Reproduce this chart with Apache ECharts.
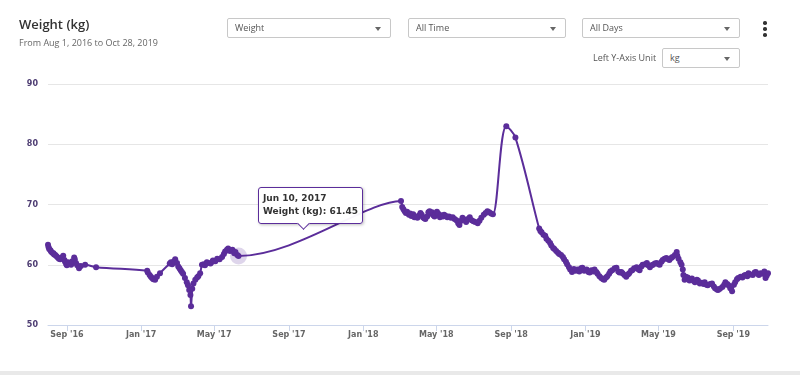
<!DOCTYPE html>
<html>
<head>
<meta charset="utf-8">
<script src="https://cdn.jsdelivr.net/npm/echarts@6/dist/echarts.min.js"></script>
<style>
  body { margin: 0; background: #fff; font-family: 'Open Sans', sans-serif; }
  .wrap { position: relative; width: 800px; height: 375px; overflow: hidden; }
  .chart { position: absolute; left: 0; top: 0; width: 800px; height: 375px; }
  .title { position: absolute; left: 19px; top: 15px; font-size: 13px; font-weight: 600; color: #333; }
  .sub { position: absolute; left: 19px; top: 36px; font-size: 9px; color: #666; }
  .sel { position: absolute; height: 18px; border: 1px solid #c8c8c8; border-radius: 2px; background: #fff;
    font-size: 9px; color: #555; line-height: 18px; padding-left: 7px; box-sizing: content-box; }
  .sel::after { content: ''; position: absolute; right: 9px; top: 8px; border-left: 3px solid transparent;
    border-right: 3px solid transparent; border-top: 4px solid #666; }
  .lbl { position: absolute; left: 593px; top: 51px; font-size: 9px; color: #555; }
  .dots { position: absolute; left: 763px; top: 21px; width: 4px; }
  .dots i { display: block; width: 3.5px; height: 3.5px; border-radius: 50%; background: #333; margin-bottom: 2.5px; }
  .foot { position: absolute; left: 0; top: 371px; width: 800px; height: 4px; background: #e9e9e9; }
</style>
</head>
<body>
<div class="wrap">
  <div class="chart" id="chart"></div>
  <div class="title">Weight (kg)</div>
  <div class="sub">From Aug 1, 2016 to Oct 28, 2019</div>
  <div class="sel" style="left:227px;top:18px;width:155px">Weight</div>
  <div class="sel" style="left:408px;top:18px;width:149px">All Time</div>
  <div class="sel" style="left:582px;top:18px;width:149px">All Days</div>
  <div class="dots"><i></i><i></i><i></i></div>
  <div class="lbl">Left Y-Axis Unit</div>
  <div class="sel" style="left:662px;top:48px;width:69px">kg</div>
  <div class="foot"></div>
</div>
<script>
const weightDates = [
  '2016-08-01', '2016-08-02', '2016-08-03', '2016-08-05', '2016-08-06', '2016-08-08', '2016-08-10', '2016-08-11',
  '2016-08-13', '2016-08-15', '2016-08-17', '2016-08-19', '2016-08-21', '2016-08-24', '2016-08-26', '2016-08-28',
  '2016-08-29', '2016-08-31', '2016-09-01', '2016-09-03', '2016-09-05', '2016-09-08', '2016-09-10', '2016-09-13',
  '2016-09-14', '2016-09-16', '2016-09-18', '2016-09-21', '2016-09-24', '2016-10-01', '2016-10-19',
  '2017-01-11', '2017-01-12', '2017-01-15', '2017-01-17', '2017-01-19', '2017-01-21', '2017-01-24', '2017-01-27',
  '2017-02-01', '2017-02-17', '2017-02-19', '2017-02-21', '2017-02-24', '2017-02-26', '2017-03-01', '2017-03-03',
  '2017-03-05', '2017-03-07', '2017-03-09', '2017-03-11', '2017-03-14', '2017-03-17', '2017-03-19', '2017-03-21',
  '2017-03-23', '2017-03-24', '2017-03-26', '2017-03-28', '2017-03-31', '2017-04-03', '2017-04-05', '2017-04-08',
  '2017-04-11', '2017-04-14', '2017-04-16', '2017-04-19', '2017-04-21', '2017-04-25', '2017-04-28', '2017-04-29',
  '2017-05-03', '2017-05-06', '2017-05-10', '2017-05-14', '2017-05-17', '2017-05-19', '2017-05-22', '2017-05-24',
  '2017-05-27', '2017-05-31', '2017-06-03', '2017-06-05', '2017-06-08', '2017-06-10',
  '2018-03-04', '2018-03-06', '2018-03-08', '2018-03-10', '2018-03-12', '2018-03-14', '2018-03-17', '2018-03-19',
  '2018-03-21', '2018-03-24', '2018-03-26', '2018-03-28', '2018-03-31', '2018-04-03', '2018-04-05', '2018-04-07',
  '2018-04-09', '2018-04-11', '2018-04-13', '2018-04-16', '2018-04-18', '2018-04-20', '2018-04-22', '2018-04-24',
  '2018-04-26', '2018-04-28', '2018-04-30', '2018-05-02', '2018-05-04', '2018-05-07', '2018-05-09', '2018-05-12',
  '2018-05-14', '2018-05-17', '2018-05-19', '2018-05-22', '2018-05-25', '2018-05-28', '2018-05-31', '2018-06-03',
  '2018-06-06', '2018-06-08', '2018-06-11', '2018-06-13', '2018-06-16', '2018-06-19', '2018-06-22', '2018-06-25',
  '2018-06-28', '2018-07-01', '2018-07-04', '2018-07-08', '2018-07-11', '2018-07-14', '2018-07-18', '2018-07-21',
  '2018-07-24', '2018-07-27', '2018-07-30', '2018-08-02', '2018-08-24', '2018-09-08',
  '2018-10-17', '2018-10-19', '2018-10-21', '2018-10-24', '2018-10-27', '2018-10-29', '2018-11-01', '2018-11-04',
  '2018-11-06', '2018-11-09', '2018-11-11', '2018-11-14', '2018-11-17', '2018-11-19', '2018-11-22', '2018-11-25',
  '2018-11-27', '2018-11-30', '2018-12-02', '2018-12-05', '2018-12-07', '2018-12-10', '2018-12-13', '2018-12-16',
  '2018-12-19', '2018-12-22', '2018-12-25', '2018-12-27', '2018-12-30', '2019-01-03', '2019-01-06', '2019-01-08',
  '2019-01-11', '2019-01-14', '2019-01-16', '2019-01-19', '2019-01-21', '2019-01-24', '2019-01-27', '2019-01-30',
  '2019-02-01', '2019-02-04', '2019-02-06', '2019-02-09', '2019-02-11', '2019-02-14', '2019-02-18', '2019-02-21',
  '2019-02-24', '2019-02-26', '2019-03-01', '2019-03-03', '2019-03-06', '2019-03-09', '2019-03-12', '2019-03-14',
  '2019-03-17', '2019-03-19', '2019-03-22', '2019-03-26', '2019-03-28', '2019-03-31', '2019-04-03', '2019-04-05',
  '2019-04-09', '2019-04-12', '2019-04-14', '2019-04-17', '2019-04-20', '2019-04-22', '2019-04-25', '2019-04-28',
  '2019-05-01', '2019-05-03', '2019-05-06', '2019-05-08', '2019-05-11', '2019-05-14', '2019-05-17', '2019-05-19',
  '2019-05-22', '2019-05-24', '2019-05-28', '2019-05-31', '2019-06-01', '2019-06-03', '2019-06-06', '2019-06-08',
  '2019-06-10', '2019-06-11', '2019-06-13', '2019-06-15', '2019-06-18', '2019-06-21', '2019-06-25', '2019-06-28',
  '2019-06-30', '2019-07-03', '2019-07-05', '2019-07-08', '2019-07-11', '2019-07-14', '2019-07-16', '2019-07-19',
  '2019-07-21', '2019-07-25', '2019-07-28', '2019-07-31', '2019-08-02', '2019-08-05', '2019-08-07', '2019-08-10',
  '2019-08-14', '2019-08-17', '2019-08-19', '2019-08-22', '2019-08-24', '2019-08-27', '2019-08-30', '2019-09-02',
  '2019-09-04', '2019-09-07', '2019-09-09', '2019-09-13', '2019-09-16', '2019-09-19', '2019-09-21', '2019-09-24',
  '2019-09-26', '2019-09-29', '2019-10-03', '2019-10-06', '2019-10-08', '2019-10-11', '2019-10-13', '2019-10-16',
  '2019-10-19', '2019-10-22', '2019-10-24', '2019-10-26', '2019-10-28'
]
const weightKg = [
  63.3, 62.9, 62.6, 62.4, 62.2, 62.0, 61.9, 61.7,
  61.6, 61.4, 61.2, 61.0, 60.9, 61.2, 61.5, 60.8,
  60.5, 60.1, 59.9, 60.4, 60.2, 60.0, 60.6, 61.2,
  60.9, 60.3, 59.9, 59.4, 59.8, 60.0, 59.6,
  59.0, 58.7, 58.3, 58.0, 57.8, 57.6, 57.5, 58.0,
  58.6, 60.2, 60.4, 60.1, 60.6, 60.9, 60.3, 59.7,
  59.4, 59.1, 58.8, 58.5, 57.8, 57.1, 56.6, 55.8,
  55.0, 53.1, 56.0, 56.9, 57.5, 57.9, 58.1, 58.6,
  60.0, 60.1, 59.9, 60.4, 60.3, 60.2, 60.5, 60.7,
  60.6, 61.0, 60.9, 61.3, 61.8, 62.2, 62.5, 62.7,
  62.3, 62.5, 61.9, 62.1, 61.6, 61.45,
  70.6, 69.6, 69.2, 68.9, 68.6, 68.8, 68.3, 68.5,
  68.1, 68.4, 67.9, 68.0, 67.8, 68.2, 68.6, 68.3,
  67.9, 67.7, 67.6, 68.0, 68.7, 68.9, 68.5, 68.7,
  68.2, 68.0, 68.4, 68.8, 68.5, 67.9, 68.2, 68.0,
  68.3, 68.1, 67.9, 68.0, 67.8, 67.9, 67.6, 67.4,
  66.9, 66.6, 67.3, 67.8, 67.5, 67.1, 67.6, 67.9,
  67.4, 67.2, 67.1, 66.9, 67.3, 67.8, 68.3, 68.6,
  68.9, 68.7, 68.5, 68.4, 83.0, 81.1,
  66.0, 65.6, 65.4, 65.0, 64.8, 64.3, 64.0, 63.6,
  63.2, 62.8, 62.6, 62.3, 62.0, 61.8, 61.6, 61.3,
  60.9, 60.5, 60.1, 59.6, 59.2, 58.8, 59.3, 59.0,
  59.2, 58.9, 59.4, 59.5, 59.0, 59.2, 58.8, 58.7,
  59.1, 58.9, 59.2, 58.8, 58.5, 58.1, 57.8, 57.6,
  57.5, 57.9, 58.1, 58.5, 58.9, 59.1, 59.4, 59.5,
  58.9, 58.7, 58.8, 58.6, 58.3, 58.0, 58.4, 58.6,
  59.0, 59.1, 59.4, 59.6, 59.3, 59.1, 59.7, 60.0,
  60.1, 60.3, 59.9, 59.6, 59.9, 60.0, 60.2, 60.3,
  60.1, 60.0, 60.5, 60.8, 61.0, 61.1, 60.9, 60.8,
  61.1, 61.3, 61.6, 62.1, 61.5, 61.0, 60.4, 60.0,
  59.2, 58.3, 57.5, 58.0, 57.9, 57.4, 57.7, 57.3,
  57.1, 57.5, 57.4, 56.9, 57.0, 56.8, 57.1, 56.7,
  56.6, 56.8, 56.9, 56.4, 56.1, 55.9, 55.8, 56.0,
  56.3, 56.7, 57.1, 56.8, 56.6, 56.1, 55.6, 56.7,
  57.1, 57.6, 57.8, 58.0, 57.9, 58.2, 58.3, 58.1,
  58.6, 58.4, 58.3, 58.7, 58.8, 58.5, 58.3, 58.6,
  58.5, 58.9, 57.8, 58.2, 58.6
]
const tickDates = ['2016-09-01', '2017-01-01', '2017-05-01', '2017-09-01', '2018-01-01',
  '2018-05-01', '2018-09-01', '2019-01-01', '2019-05-01', '2019-09-01']
const tickLabels = ["Sep '16", "Jan '17", "May '17", "Sep '17", "Jan '18",
  "May '18", "Sep '18", "Jan '19", "May '19", "Sep '19"]
const yTicks = [50, 60, 70, 80, 90]
const hoverDate = '2017-06-10'
const hoverValue = 61.45
const monthNames = ['Jan', 'Feb', 'Mar', 'Apr', 'May', 'Jun', 'Jul', 'Aug', 'Sep', 'Oct', 'Nov', 'Dec']

const purple = '#5b2d9a'
const parse = d => +echarts.time.parse(d)
const tickTimes = tickDates.map(parse)

const chart = echarts.init(document.getElementById('chart'))
chart.setOption({
  animation: false,
  grid: { left: 48, right: 32, top: 84, bottom: 50 },
  tooltip: {
    trigger: 'item',
    alwaysShowContent: true,
    position: [258, 187],
    padding: [4, 4, 5, 4],
    backgroundColor: 'rgba(255,255,255,0.96)',
    borderColor: purple,
    borderWidth: 1,
    extraCssText: 'border-radius:3px;box-shadow:1px 1px 3px rgba(0,0,0,0.25);',
    formatter: p => {
      const d = new Date(p.value[0])
      const label = `${monthNames[d.getMonth()]} ${d.getDate()}, ${d.getFullYear()}`
      return `<div style="font:bold 9px 'DejaVu Sans';color:#333;line-height:13px">${label}<br>Weight (kg): ${p.value[1]}</div>
        <div style="position:absolute;left:40px;bottom:-5px;width:8px;height:8px;background:#fff;
        border-right:1px solid ${purple};border-bottom:1px solid ${purple};transform:rotate(45deg)"></div>`
    }
  },
  xAxis: {
    type: 'value',
    min: parse('2016-08-01'),
    max: parse('2019-10-28'),
    axisLine: { lineStyle: { color: '#ccd6eb' } },
    axisTick: { show: true, customValues: tickTimes, length: 6, lineStyle: { color: '#ccd6eb' } },
    splitLine: { show: false },
    axisLabel: {
      customValues: tickTimes,
      margin: 6,
      color: '#666',
      fontFamily: 'DejaVu Sans',
      fontWeight: 'bold',
      fontSize: 8,
      formatter: v => tickLabels[tickTimes.indexOf(v)] || ''
    }
  },
  yAxis: {
    type: 'value',
    min: yTicks[0],
    max: yTicks[yTicks.length - 1],
    interval: 10,
    axisLine: { show: false },
    axisTick: { show: false },
    splitLine: { lineStyle: { color: '#e6e6e6' } },
    axisLabel: {
      margin: 10,
      color: '#4d3c72',
      fontFamily: 'DejaVu Sans',
      fontWeight: 'bold',
      fontSize: 8
    }
  },
  series: [
    {
      type: 'scatter',
      z: 1,
      symbolSize: 17,
      itemStyle: { color: 'rgba(91,45,154,0.25)' },
      data: [[parse(hoverDate), hoverValue]]
    },
    {
      type: 'line',
      z: 2,
      smooth: 0.35,
      silent: true,
      symbol: 'circle',
      symbolSize: 6,
      showAllSymbol: true,
      lineStyle: { color: purple, width: 2 },
      itemStyle: { color: purple },
      data: weightDates.map((d, i) => [parse(d), weightKg[i]])
    }
  ]
})
chart.dispatchAction({ type: 'showTip', seriesIndex: 0, dataIndex: 0 })
</script>
</body>
</html>
